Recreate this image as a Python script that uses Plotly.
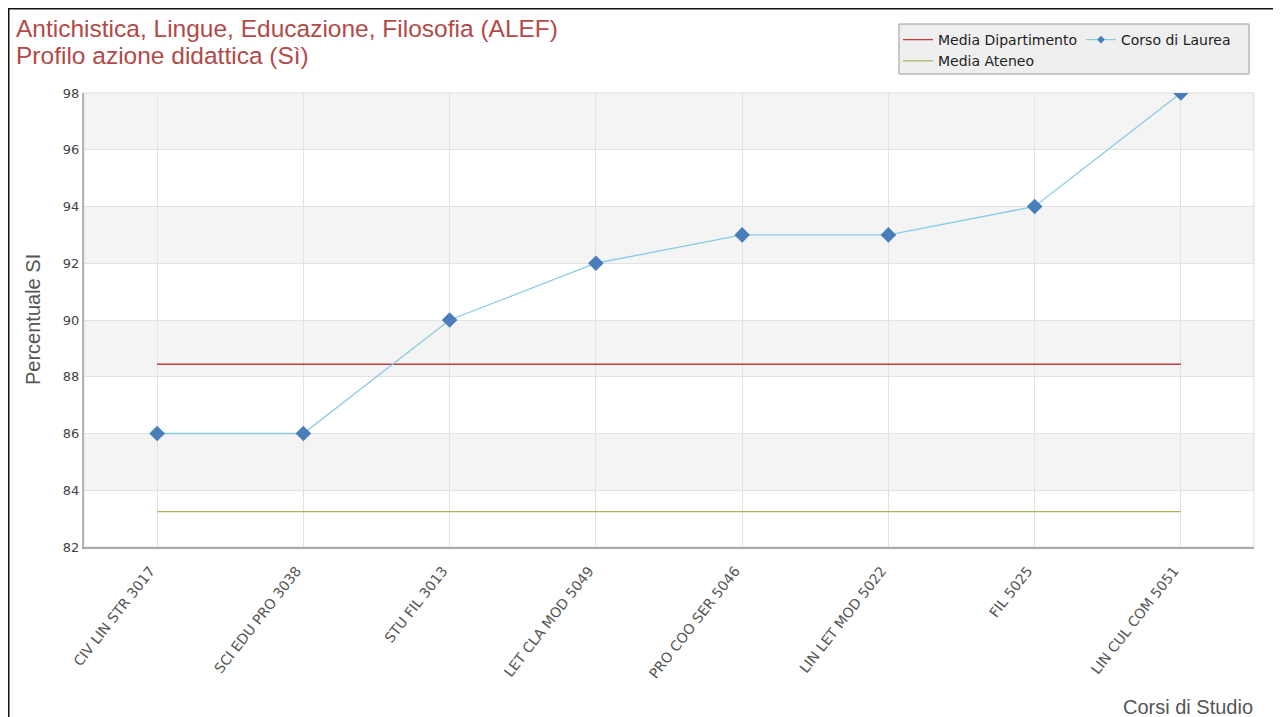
import plotly.graph_objects as go

# ---- data ----
categories = ["CIV LIN STR 3017", "SCI EDU PRO 3038", "STU FIL 3013", "LET CLA MOD 5049",
              "PRO COO SER 5046", "LIN LET MOD 5022", "FIL 5025", "LIN CUL COM 5051"]
corso_values = [86, 86, 90, 92, 93, 93, 94, 98]
media_dipartimento = [88.44] * len(categories)
media_ateneo = [83.25] * len(categories)
y_ticks = [82, 84, 86, 88, 90, 92, 94, 96, 98]

title_lines = ["Antichistica, Lingue, Educazione, Filosofia (ALEF)", "Profilo azione didattica (Sì)"]

# ---- layout geometry (page body has an 8px margin) ----
OFF = 8
W, H = 1281 - OFF, 717 - OFF
ML = 84 - OFF
MT = 93 - OFF
MR = W - (1254 - OFF)
MB = H - (547 - OFF)
PW, PH = W - ML - MR, H - MT - MB


def px_x(px):
    """reference-screenshot x pixel -> paper coordinate"""
    return (px - OFF - ML) / PW


def px_y(py):
    """reference-screenshot y pixel -> paper coordinate"""
    return (H - MB - (py - OFF)) / PH


SANS = "Liberation Sans, Arial, sans-serif"
DEJAVU = "DejaVu Sans, sans-serif"

fig = go.Figure()

fig.add_trace(go.Scatter(
    x=categories, y=media_dipartimento, mode="lines", name="Media Dipartimento",
    line=dict(color="#b8403f", width=1.3), legend="legend", hoverinfo="skip"))
fig.add_trace(go.Scatter(
    x=categories, y=media_ateneo, mode="lines", name="Media Ateneo",
    line=dict(color="#a8b65a", width=1.3), legend="legend", hoverinfo="skip"))
fig.add_trace(go.Scatter(
    x=categories, y=corso_values, mode="lines+markers", name="Corso di Laurea",
    line=dict(color="#86cce4", width=1.3),
    marker=dict(symbol="diamond", size=12, color="#4a7ebb"),
    showlegend=False))
# legend entry for Corso di Laurea (smaller symbol as in the reference)
fig.add_trace(go.Scatter(
    x=[None], y=[None], mode="lines+markers", name="Corso di Laurea",
    line=dict(color="#86cce4", width=1.2),
    marker=dict(symbol="diamond", size=6, color="#4a7ebb"),
    legend="legend2", hoverinfo="skip"))

shapes = []
# alternating horizontal bands
for i in range(len(y_ticks) - 1):
    lo, hi = y_ticks[i], y_ticks[i + 1]
    if i % 2 == 1:
        shapes.append(dict(type="rect", xref="paper", yref="y", x0=0, x1=1, y0=lo, y1=hi,
                           fillcolor="#f4f4f4", line=dict(width=0), layer="below"))
# plot outline (light)
shapes.append(dict(type="rect", xref="paper", yref="paper", x0=0, x1=1, y0=0, y1=1,
                   line=dict(color="#dddddd", width=1), layer="below"))
# legend box
shapes.append(dict(type="rect", xref="paper", yref="paper",
                   x0=px_x(899), x1=px_x(1249), y0=px_y(74), y1=px_y(24),
                   fillcolor="#efefef", line=dict(color="#9a9a9a", width=1), layer="above"))
# outer black frame (left and top)
shapes.append(dict(type="line", xref="paper", yref="paper",
                   x0=px_x(8.5), x1=px_x(8.5), y0=px_y(8), y1=px_y(730),
                   line=dict(color="#111111", width=2)))
shapes.append(dict(type="line", xref="paper", yref="paper",
                   x0=px_x(8), x1=px_x(1300), y0=px_y(8.5), y1=px_y(8.5),
                   line=dict(color="#111111", width=2)))

annotations = [
    dict(text=title_lines[0], xref="paper", yref="paper", x=px_x(14), y=px_y(28),
         xanchor="left", yanchor="middle", showarrow=False,
         font=dict(family=SANS, size=24.5, color="#b24a48")),
    dict(text=title_lines[1], xref="paper", yref="paper", x=px_x(14), y=px_y(55),
         xanchor="left", yanchor="middle", showarrow=False,
         font=dict(family=SANS, size=24.5, color="#b24a48")),
    dict(text="Percentuale SI", xref="paper", yref="paper", x=px_x(33), y=px_y(320),
         xanchor="center", yanchor="middle", textangle=-90, showarrow=False,
         font=dict(family=SANS, size=20, color="#555555")),
    dict(text="Corsi di Studio", xref="paper", yref="paper", x=px_x(1255), y=px_y(707),
         xanchor="right", yanchor="middle", showarrow=False,
         font=dict(family=SANS, size=20, color="#555555")),
]

fig.update_layout(
    width=W, height=H,
    margin=dict(l=ML, r=MR, t=MT, b=MB, autoexpand=False),
    paper_bgcolor="white", plot_bgcolor="white",
    showlegend=True,
    legend=dict(x=px_x(898), y=px_y(24), xanchor="left", yanchor="top",
                bgcolor="rgba(0,0,0,0)", borderwidth=0, orientation="v",
                font=dict(family=DEJAVU, size=14, color="#222222"),
                tracegroupgap=0, itemwidth=30),
    legend2=dict(x=px_x(1081), y=px_y(24), xanchor="left", yanchor="top",
                 bgcolor="rgba(0,0,0,0)", borderwidth=0, orientation="v",
                 font=dict(family=DEJAVU, size=14, color="#222222"),
                 itemwidth=30),
    shapes=shapes,
    annotations=annotations,
    xaxis=dict(type="category", categoryorder="array", categoryarray=categories,
               range=[-0.5, len(categories) - 0.5],
               tickangle=-52, showgrid=True, gridcolor="#e2e2e2", gridwidth=1,
               showline=True, linecolor="#a8a8a8", linewidth=2, ticks="",
               ticklabelstandoff=8, ticklabelshift=-7,
               tickfont=dict(family=DEJAVU, size=14, color="#555555"),
               zeroline=False, fixedrange=True),
    yaxis=dict(range=[y_ticks[0], y_ticks[-1]], tickvals=y_ticks,
               showgrid=True, gridcolor="#e2e2e2", gridwidth=1,
               showline=True, linecolor="#b4b4b4", linewidth=2, ticks="",
               tickfont=dict(family=DEJAVU, size=13, color="#444444"),
               zeroline=False, fixedrange=True),
)

fig.write_html("out.html")
